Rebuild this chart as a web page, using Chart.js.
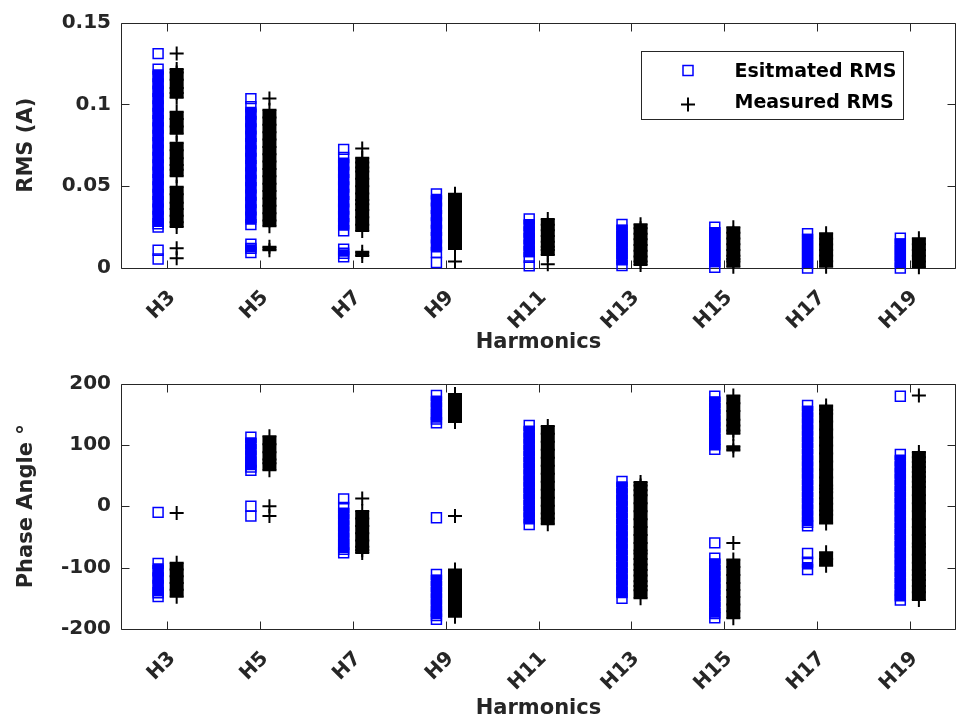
<!DOCTYPE html>
<html>
<head>
<meta charset="utf-8">
<title>Harmonic RMS and phase angle</title>
<script src="https://cdn.jsdelivr.net/npm/chart.js@4.4.1/dist/chart.umd.min.js"></script>
<style>
  body { margin: 0; background: #fff; }
  .plot { position: relative; width: 965px; height: 361px; }
</style>
</head>
<body>
<div class="plot"><canvas id="rmsChart"></canvas></div>
<div class="plot"><canvas id="phaseChart"></canvas></div>
<script>
// harmonic orders on the x axis
const harmonics = ['H3', 'H5', 'H7', 'H9', 'H11', 'H13', 'H15', 'H17', 'H19'];
const rmsTicks = [0, 0.05, 0.1, 0.15];
const phaseTicks = [-200, -100, 0, 100, 200];

// RMS (A), one list per harmonic
const rmsEstimated = [
    [0.131, 0.1215, 0.117, 0.1125, 0.108, 0.1035, 0.099, 0.0945, 0.090, 0.0855, 0.081, 0.0765, 0.072, 0.0675, 0.063, 0.0585, 0.054, 0.0495, 0.045, 0.0405, 0.036, 0.0315, 0.027, 0.025, 0.0108, 0.0055],
    [0.1035, 0.0985, 0.094, 0.0895, 0.085, 0.0805, 0.076, 0.0715, 0.067, 0.0625, 0.058, 0.0535, 0.049, 0.0445, 0.040, 0.0355, 0.031, 0.0265, 0.0145, 0.012, 0.0095],
    [0.0725, 0.0675, 0.063, 0.0585, 0.054, 0.0495, 0.045, 0.0405, 0.036, 0.0315, 0.027, 0.0228, 0.0115, 0.009, 0.0068],
    [0.0453, 0.041, 0.0365, 0.032, 0.0275, 0.023, 0.0185, 0.014, 0.0095, 0.0034],
    [0.030, 0.026, 0.022, 0.018, 0.014, 0.010, 0.0065, 0.0013],
    [0.0266, 0.023, 0.0195, 0.016, 0.0125, 0.009, 0.0055, 0.0015],
    [0.0249, 0.0215, 0.018, 0.0145, 0.011, 0.0075, 0.004, 0.0004],
    [0.021, 0.0175, 0.014, 0.0105, 0.007, 0.0035, 0.0],
    [0.0182, 0.0145, 0.011, 0.0075, 0.004, 0.0]
];
const rmsMeasured = [
    [0.131, 0.1216, 0.1195, 0.115, 0.110, 0.107, 0.104, 0.0955, 0.091, 0.0865, 0.082, 0.0765, 0.072, 0.067, 0.063, 0.060, 0.056, 0.0496, 0.045, 0.0398, 0.036, 0.032, 0.028, 0.025, 0.012, 0.006],
    [0.1035, 0.0967, 0.092, 0.0875, 0.083, 0.0785, 0.074, 0.0695, 0.065, 0.0605, 0.056, 0.0515, 0.047, 0.0425, 0.038, 0.0335, 0.029, 0.0255, 0.013, 0.0108],
    [0.073, 0.0673, 0.0644, 0.0614, 0.059, 0.0545, 0.050, 0.0455, 0.0416, 0.039, 0.0355, 0.031, 0.0265, 0.0226, 0.010, 0.0073],
    [0.0453, 0.041, 0.0365, 0.032, 0.0294, 0.025, 0.0215, 0.0184, 0.016, 0.013, 0.0116, 0.0039],
    [0.030, 0.0265, 0.023, 0.0195, 0.016, 0.013, 0.011, 0.008, 0.0023],
    [0.0267, 0.0243, 0.021, 0.0175, 0.014, 0.0105, 0.007, 0.0039, 0.0018],
    [0.0249, 0.0215, 0.018, 0.0145, 0.011, 0.0075, 0.0055, 0.0039, 0.0008],
    [0.0212, 0.0178, 0.0144, 0.011, 0.0076, 0.0042, 0.0008],
    [0.0182, 0.0145, 0.011, 0.0075, 0.004, 0.0005]
];

// phase angle (degrees), one list per harmonic
const phaseEstimated = [
    [-10, -93, -105, -117, -129, -141, -147],
    [112.5, 102, 92, 82, 72, 64, 58.5, 0, -16],
    [12, -2, -12, -22, -32, -42, -52, -62, -70, -76],
    [180.5, 170, 160, 150, 142, 136, -18.7, -111, -121, -131, -141, -151, -161, -171, -178, -184],
    [131.7, 121, 111, 101, 91, 81, 71, 61, 51, 41, 31, 21, 11, 1, -9, -19, -29.8],
    [40.6, 30, 20, 10, 0, -10, -20, -30, -40, -50, -60, -70, -80, -90, -100, -110, -120, -130, -140, -150],
    [179.3, 169, 159, 149, 139, 129, 119, 109, 100, 92.7, -59.7, -84.6, -95, -105, -115, -125, -135, -145, -155, -165, -175, -181.6],
    [164.2, 154, 144, 134, 124, 114, 104, 94, 84, 74, 64, 54, 44, 34, 24, 14, 4, -6, -16, -26, -32, -77, -91, -103],
    [179.3, 84.5, 74, 64, 54, 44, 34, 24, 14, 4, -6, -16, -26, -36, -46, -56, -66, -76, -86, -96, -106, -116, -126, -136, -146, -153]
];
const phaseMeasured = [
    [-11, -92, -103, -114, -125, -136, -147.5],
    [114, 101, 88, 76, 70, 58.5, 0, -16],
    [12.5, -7.7, -20, -32, -44, -56, -66, -71.5, -76],
    [183, 173, 163, 153.3, 145.2, 137.1, -16, -103, -110, -118, -128.5, -138, -148, -158, -168, -175, -180],
    [130.6, 118, 105, 92, 79, 66, 53, 40, 27, 14, 1, -11.9, -20, -29.3],
    [39.5, 34, 26, 18, 5, -8, -21, -34, -47, -60, -72, -77, -86, -95, -104, -113, -122, -130, -137, -150],
    [180.5, 168, 155, 141, 131.7, 123.6, 118.2, 97.6, 91, -59.7, -86.7, -99, -112, -125, -136.6, -148, -160, -171, -182.6],
    [164.2, 157, 150.6, 138, 125, 112, 99, 86, 73, 60, 47, 34, 28.7, 23, 13, 4, -7, -14, -28, -75, -86, -97],
    [180.5, 88.3, 80, 72, 64, 56, 48, 40, 31.4, 18, 5, -8, -21, -34, -47, -60.6, -66, -79, -92, -104, -112, -120, -130, -140, -152.8]
];

const BLUE = '#0000ff';
const AXIS = '#262626';
Chart.defaults.font.family = "'DejaVu Sans', sans-serif";
Chart.defaults.font.weight = 'bold';

// x position: harmonic index, estimated left of the tick, measured right
function toPoints(series, shift) {
    const pts = [];
    series.forEach((vals, i) => vals.forEach(v => pts.push({ x: i + 1 + shift, y: v })));
    return pts;
}

// markers closer than `gap` px merge into a solid column, like the dense marker stacks
function columnColor(color, gap) {
    return ctx => (Math.abs(ctx.p0.x - ctx.p1.x) < 1 && Math.abs(ctx.p0.y - ctx.p1.y) <= gap) ? color : 'rgba(0,0,0,0)';
}

// box with inward ticks, matlab style
const boxPlugin = {
    id: 'boxPlugin',
    beforeDatasetsDraw(chart) {
        const { ctx, chartArea: a, scales: { x, y } } = chart;
        const l = Math.round(a.left) + 0.5, r = Math.round(a.right) - 0.5;
        const t = Math.round(a.top) + 0.5, b = Math.round(a.bottom) + 0.5;
        ctx.save();
        ctx.strokeStyle = AXIS;
        ctx.lineWidth = 1;
        ctx.beginPath();
        ctx.rect(l, t, r - l, b - t);
        x.ticks.forEach(tk => {
            const px = Math.round(x.getPixelForValue(tk.value)) + 0.5;
            ctx.moveTo(px, b); ctx.lineTo(px, b - 8);
            ctx.moveTo(px, t); ctx.lineTo(px, t + 8);
        });
        y.ticks.forEach(tk => {
            const py = Math.round(y.getPixelForValue(tk.value)) + 0.5;
            ctx.moveTo(l, py); ctx.lineTo(l + 8, py);
            ctx.moveTo(r, py); ctx.lineTo(r - 8, py);
        });
        ctx.stroke();
        ctx.restore();
    }
};

// legend box in the upper right of the RMS plot
const legendBox = {
    id: 'legendBox',
    afterDatasetsDraw(chart) {
        const { ctx, chartArea: a } = chart;
        const left = Math.round(a.right) - 314.5, top = Math.round(a.top) + 28.5;
        const w = 262, h = 68;
        const ds = chart.data.datasets;
        ctx.save();
        ctx.fillStyle = '#fff';
        ctx.fillRect(left, top, w, h);
        ctx.strokeStyle = AXIS;
        ctx.lineWidth = 1;
        ctx.strokeRect(left, top, w, h);

        const mx = left + 46.5, y1 = top + 19, y2 = top + 53;
        ctx.strokeStyle = BLUE;
        ctx.lineWidth = 1.5;
        ctx.strokeRect(mx - 5, y1 - 5, 10, 10);

        ctx.strokeStyle = '#000';
        ctx.lineWidth = 2;
        ctx.beginPath();
        ctx.moveTo(mx - 7, y2); ctx.lineTo(mx + 7, y2);
        ctx.moveTo(mx, y2 - 7); ctx.lineTo(mx, y2 + 7);
        ctx.stroke();

        ctx.fillStyle = '#000';
        ctx.font = "bold 19px 'DejaVu Sans'";
        ctx.textBaseline = 'middle';
        ctx.fillText(ds[0].label, left + 93, top + 21);
        ctx.fillText(ds[1].label, left + 93, top + 52);
        ctx.restore();
    }
};

function makeChart(id, est, meas, yTicks, yTitle, xTitlePad, labels, extra) {
    const estPts = toPoints(est, -0.1);
    const measPts = toPoints(meas, 0.1);
    return new Chart(document.getElementById(id), {
        type: 'scatter',
        data: {
            datasets: [
                {
                    label: labels[0], data: estPts, showLine: false,
                    pointStyle: 'rect', pointRadius: 7, pointBorderWidth: 1.5,
                    pointBorderColor: BLUE, pointBackgroundColor: 'rgba(0,0,0,0)', clip: false
                },
                {
                    label: labels[1], data: measPts, showLine: false,
                    pointStyle: 'cross', pointRadius: 7, pointBorderWidth: 2,
                    pointBorderColor: '#000', clip: false
                },
                {
                    label: 'est column', data: estPts, showLine: true, pointRadius: 0, pointHitRadius: 0,
                    borderWidth: 11, borderColor: BLUE, tension: 0, clip: false,
                    segment: { borderColor: columnColor(BLUE, 8) }
                },
                {
                    label: 'meas column', data: measPts, showLine: true, pointRadius: 0, pointHitRadius: 0,
                    borderWidth: 14, borderColor: '#000', tension: 0, clip: false,
                    segment: { borderColor: columnColor('#000', 9) }
                }
            ]
        },
        options: {
            responsive: true,
            maintainAspectRatio: false,
            animation: false,
            layout: { padding: { top: 22.5, right: 2, left: 0, bottom: 0 } },
            plugins: { legend: { display: false }, tooltip: { enabled: false } },
            scales: {
                x: {
                    type: 'linear', min: 0.5, max: 9.5,
                    grid: { display: false, drawTicks: false },
                    border: { display: false },
                    afterBuildTicks: s => { s.ticks = harmonics.map((h, i) => ({ value: i + 1 })); },
                    afterFit: s => { s.height = 93; },
                    ticks: {
                        autoSkip: false, minRotation: 45, maxRotation: 45,
                        padding: 18, labelOffset: 5, color: AXIS, font: { size: 20 },
                        callback: v => harmonics[Math.round(v) - 1]
                    },
                    title: {
                        display: true, text: 'Harmonics', color: AXIS,
                        font: { size: 21 }, padding: { top: 0, bottom: xTitlePad }
                    }
                },
                y: {
                    min: yTicks[0], max: yTicks[yTicks.length - 1],
                    grid: { display: false, drawTicks: false },
                    border: { display: false },
                    afterBuildTicks: s => { s.ticks = yTicks.map(v => ({ value: v })); },
                    afterFit: s => { s.width = 121; },
                    ticks: { padding: 10, color: AXIS, font: { size: 20 }, callback: v => String(v) },
                    title: {
                        display: true, text: yTitle, color: AXIS,
                        font: { size: 21 }, padding: { top: 14, bottom: 0 }
                    }
                }
            }
        },
        plugins: [boxPlugin].concat(extra)
    });
}

makeChart('rmsChart', rmsEstimated, rmsMeasured, rmsTicks, 'RMS (A)', 5.5,
    ['Esitmated RMS', 'Measured RMS'], [legendBox]);
makeChart('phaseChart', phaseEstimated, phaseMeasured, phaseTicks, 'Phase Angle °', 0.5,
    ['Esitmated phase', 'Measured phase'], []);
</script>
</body>
</html>
